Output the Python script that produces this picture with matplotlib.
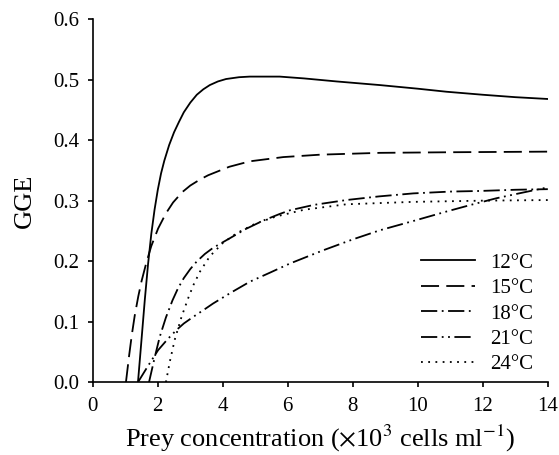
import matplotlib
matplotlib.use("Agg")
import matplotlib.pyplot as plt

plt.rcParams['font.family'] = ['Liberation Serif', 'DejaVu Serif']
plt.rcParams['mathtext.fontset'] = 'stix'

# GGE vs prey concentration
x_12 = [1.39, 1.5, 1.6, 1.7, 1.8, 1.9, 2.0, 2.1, 2.2, 2.35, 2.5, 2.65, 2.8, 3.0, 3.2,
        3.4, 3.6, 3.85, 4.1, 4.5, 4.83, 5.3, 5.75, 6.5, 7.5, 8.83, 10.0, 10.88, 12.0, 13.0, 14.0]
y_12 = [0.0, 0.071, 0.136, 0.195, 0.245, 0.285, 0.318, 0.345, 0.366, 0.392, 0.413, 0.43, 0.446, 0.462, 0.475,
        0.484, 0.491, 0.497, 0.501, 0.504, 0.505, 0.505, 0.505, 0.502, 0.497, 0.491, 0.485, 0.480, 0.475, 0.471, 0.468]

x_15 = [1.02, 1.12, 1.2, 1.29, 1.4, 1.5, 1.65, 1.8, 2.01, 2.25, 2.47, 2.75, 3.0, 3.3, 3.55,
        4.2, 4.83, 5.86, 7.0, 8.83, 11.0, 14.0]
y_15 = [0.0, 0.045, 0.078, 0.11, 0.142, 0.167, 0.198, 0.225, 0.254, 0.279, 0.297, 0.314, 0.325, 0.335, 0.342,
        0.356, 0.365, 0.372, 0.376, 0.379, 0.380, 0.381]

x_18 = [1.73, 1.9, 2.06, 2.25, 2.45, 2.62, 2.8, 3.0, 3.19, 3.45, 3.7, 4.22, 4.7, 5.24, 5.75, 6.06,
        6.8, 7.8, 8.8, 9.86, 11.0, 11.9, 13.0, 14.0]
y_18 = [0.0, 0.04, 0.075, 0.107, 0.135, 0.155, 0.172, 0.187, 0.199, 0.212, 0.222, 0.238, 0.253, 0.267, 0.278, 0.284,
        0.293, 0.301, 0.307, 0.312, 0.315, 0.316, 0.318, 0.319]

x_21 = [1.39, 1.7, 2.01, 2.3, 2.57, 2.8, 3.09, 3.4, 3.7, 4.25, 4.83, 5.45, 6.06, 7.09, 8.0, 8.83,
        9.9, 10.88, 11.7, 12.42, 13.2, 14.0]
y_21 = [0.0, 0.027, 0.053, 0.071, 0.086, 0.097, 0.108, 0.119, 0.13, 0.148, 0.166, 0.181, 0.196, 0.218, 0.236, 0.251,
        0.267, 0.282, 0.294, 0.304, 0.313, 0.322]

x_24 = [2.25, 2.37, 2.52, 2.73, 2.95, 3.1, 3.3, 3.6, 4.0, 4.42, 5.0, 5.65, 6.5, 7.8, 9.86, 12.0, 14.0]
y_24 = [0.0, 0.034, 0.07, 0.108, 0.141, 0.161, 0.183, 0.208, 0.23, 0.246, 0.262, 0.274, 0.285, 0.294, 0.298, 0.300, 0.301]

labels = ['12°C', '15°C', '18°C', '21°C', '24°C']
styles = ['-', (0, (10, 4)), (0, (9, 2.5, 1, 2.5)), (0, (9, 2.5, 1, 2.5, 1, 2.5)), (0, (1, 3))]

fig = plt.figure(figsize=(5.59, 4.55), dpi=100)
ax = fig.add_axes([0.166, 0.160, 0.814, 0.798])

series = [(x_12, y_12), (x_15, y_15), (x_18, y_18), (x_21, y_21), (x_24, y_24)]
for (xs, ys), lab, ls in zip(series, labels, styles):
    ax.plot(xs, ys, color='black', linestyle=ls, linewidth=1.3, label=lab)

ax.set_xlim(0, 14)
ax.set_ylim(0, 0.6)
ax.set_xticks(range(0, 15, 2))
ax.set_yticks([0.0, 0.1, 0.2, 0.3, 0.4, 0.5, 0.6])
ax.yaxis.set_major_formatter(plt.FormatStrFormatter('%.1f'))
ax.spines['top'].set_visible(False)
ax.spines['right'].set_visible(False)
ax.spines['left'].set_linewidth(1.2)
ax.spines['bottom'].set_linewidth(1.2)
ax.tick_params(direction='out', length=3.5, width=1.2, labelsize=15)
ax.tick_params(axis='y', pad=6)
ax.tick_params(axis='x', pad=7)

ax.set_ylabel('GGE', fontsize=19, labelpad=13)
ax.set_xlabel(r'Prey concentration ($\times$10$^{3}$ cells ml$^{-1}$)', fontsize=19, labelpad=5)

ax.legend(loc='lower right', frameon=False, fontsize=15, handlelength=2.6,
          handletextpad=0.7, labelspacing=0.28, bbox_to_anchor=(1.008, -0.03))

fig.savefig('out.png', dpi=100)
